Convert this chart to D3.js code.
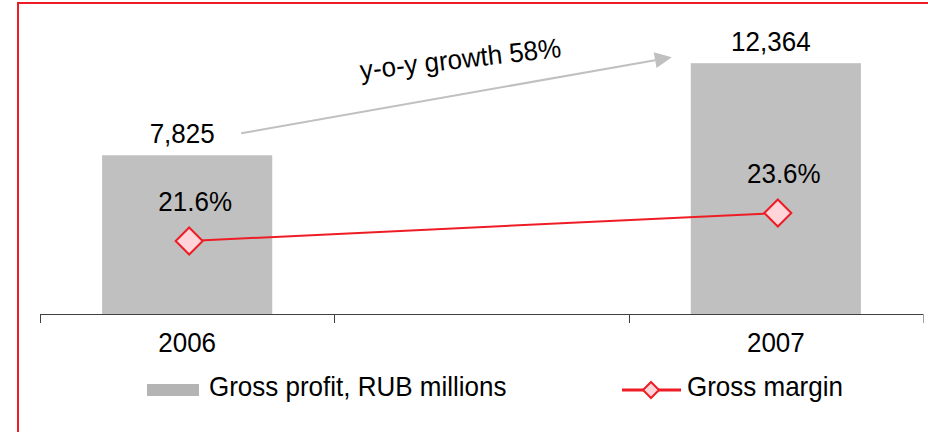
<!DOCTYPE html>
<html>
<head>
<meta charset="utf-8">
<script src="https://cdn.jsdelivr.net/npm/d3@7"></script>
<style>
  html, body { margin: 0; padding: 0; background: #fff; }
  svg { display: block; }
  text { font-family: "Liberation Sans", Arial, sans-serif; fill: #000; }
</style>
</head>
<body>
<svg id="chart" width="928" height="432"></svg>
<script>
// Categories (middle slot is an empty spacer column)
const years = ["2006", "", "2007"];
const grossProfit = [7825, null, 12364];     // RUB millions
const grossMargin = [21.6, null, 23.6];      // percent
const legendLabels = ["Gross profit, RUB millions", "Gross margin"];

const W = 928, H = 432;
const barColor = "#c0c0c0";
const red = "#ee1c25";
const fontSize = 26;
const stretch = 1.05;

const svg = d3.select("#chart");

// Frame
svg.append("path")
  .attr("d", `M18,${H + 2} V3 H${W + 2}`)
  .attr("fill", "none")
  .attr("stroke", red)
  .attr("stroke-width", 2);

const x = d3.scaleBand().domain(years).range([40, 923]).padding(0);
const y = d3.scaleLinear().domain([0, 14000]).range([314, 30]);
const y2 = d3.scaleLinear().domain([16, 36]).range([319.4, 39.4]);
const barW = x.bandwidth() * 0.578;
const cx = d => x(d) + x.bandwidth() / 2;

function label(g, tx, ty, str, anchor) {
  return g.append("text")
    .attr("transform", `translate(${tx},${ty}) scale(1,${stretch})`)
    .attr("text-anchor", anchor || "middle")
    .attr("font-size", fontSize)
    .text(str);
}

const rows = years.map((yr, i) => ({ yr, gp: grossProfit[i], gm: grossMargin[i] }))
  .filter(d => d.gp != null);

// Bars
svg.append("g").selectAll("rect")
  .data(rows)
  .join("rect")
  .attr("x", d => cx(d.yr) - barW / 2)
  .attr("y", d => y(d.gp))
  .attr("width", barW)
  .attr("height", d => y(0) - y(d.gp))
  .attr("fill", barColor);

// Category axis
const axis = svg.append("g");
axis.append("line")
  .attr("x1", x.range()[0]).attr("x2", x.range()[1])
  .attr("y1", y(0) + 0.5).attr("y2", y(0) + 0.5)
  .attr("stroke", "#404040").attr("stroke-width", 1);
d3.range(years.length + 1).forEach(i => {
  const tx = Math.round(x.range()[0] + i * x.step()) + 0.5;
  axis.append("line")
    .attr("x1", tx).attr("x2", tx)
    .attr("y1", y(0)).attr("y2", y(0) + 9)
    .attr("stroke", i === years.length ? "#a0a0a0" : "#404040");
});
years.forEach(yr => { if (yr) label(axis, cx(yr), 352, yr); });

// Bar value labels
const fmt = d3.format(",");
rows.forEach(d => label(svg, cx(d.yr) - 5, y(d.gp) - 12, fmt(d.gp)));

// Growth arrow between the two bar labels
const first = rows[0], last = rows[rows.length - 1];
const growth = Math.round((last.gp / first.gp - 1) * 100);
const ax1 = cx(first.yr) + 54, ay1 = y(first.gp) - 22;
const ax2 = cx(last.yr) - 104, ay2 = y(last.gp) - 6;
const ang = Math.atan2(ay2 - ay1, ax2 - ax1);
const headL = 17, headW = 8;
const bx = ax2 - headL * Math.cos(ang), by = ay2 - headL * Math.sin(ang);
svg.append("line")
  .attr("x1", ax1).attr("y1", ay1).attr("x2", bx).attr("y2", by)
  .attr("stroke", "#c0c0c0").attr("stroke-width", 2);
svg.append("path")
  .attr("d", `M${ax2},${ay2} L${bx - headW * Math.sin(ang)},${by + headW * Math.cos(ang)} L${bx + headW * Math.sin(ang)},${by - headW * Math.cos(ang)} Z`)
  .attr("fill", "#c0c0c0");
svg.append("text")
  .attr("transform", `translate(${(ax1 + ax2) / 2 + 5},${(ay1 + ay2) / 2 - 27}) rotate(-6.5) scale(1,${stretch})`)
  .attr("text-anchor", "middle")
  .attr("font-size", fontSize)
  .text(`y-o-y growth ${growth}%`);

// Gross margin line
svg.append("path")
  .datum(rows)
  .attr("d", d3.line().x(d => cx(d.yr) + 2).y(d => y2(d.gm)))
  .attr("fill", "none")
  .attr("stroke", red)
  .attr("stroke-width", 2);

const diamond = (g, px, py, r) => g.append("path")
  .attr("d", `M${px},${py - r} L${px + r},${py} L${px},${py + r} L${px - r},${py} Z`)
  .attr("fill", "#ffd5d9")
  .attr("stroke", red)
  .attr("stroke-width", 2);

rows.forEach(d => diamond(svg, cx(d.yr) + 2, y2(d.gm), 13.5));
rows.forEach(d => label(svg, cx(d.yr) + 8, y2(d.gm) - 30, d.gm.toFixed(1) + "%"));

// Legend
const lg = svg.append("g");
lg.append("rect").attr("x", 147).attr("y", 384).attr("width", 52).attr("height", 12).attr("fill", "#b4b4b4");
label(lg, 209, 396, legendLabels[0], "start");
lg.append("line").attr("x1", 622).attr("x2", 681).attr("y1", 390).attr("y2", 390)
  .attr("stroke", red).attr("stroke-width", 3);
diamond(lg, 651, 390, 8);
label(lg, 687, 396, legendLabels[1], "start");
</script>
</body>
</html>
